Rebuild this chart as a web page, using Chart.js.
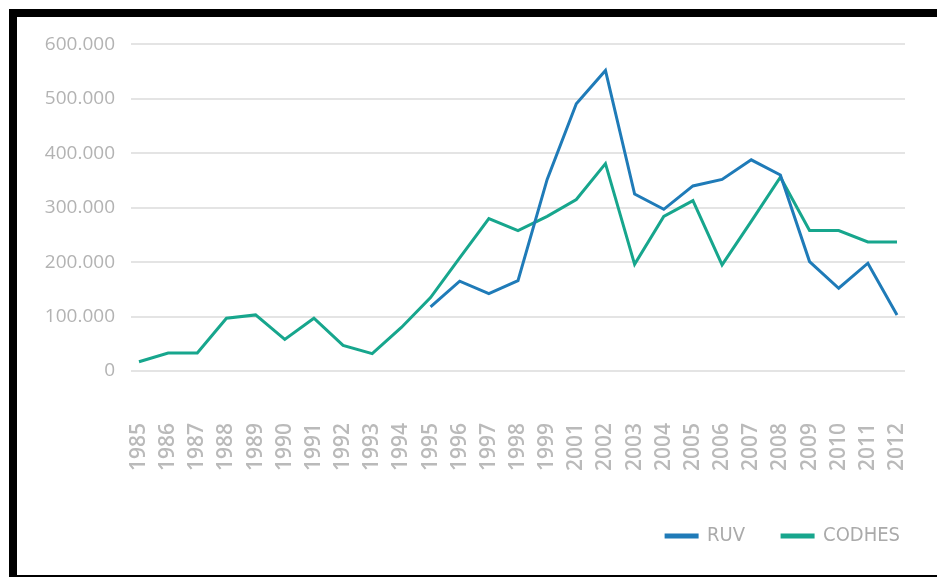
<!DOCTYPE html>
<html>
<head>
<meta charset="utf-8">
<script src="https://cdn.jsdelivr.net/npm/chart.js@4.4.0/dist/chart.umd.min.js"></script>
<style>
  html, body { margin: 0; padding: 0; background: #fff; overflow: hidden; }
  #frame {
    position: absolute; left: 9px; top: 9px;
    width: 920px; height: 558px;
    border-top: 8px solid #000; border-left: 8px solid #000; border-bottom: 2px solid #000;
    overflow: hidden;
  }
  #chart { display: block; }
</style>
</head>
<body>
<div id="frame"><canvas id="chart" width="920" height="558"></canvas></div>
<script>
// years on the axis (the source skips 2000)
const years = ['1985', '1986', '1987', '1988', '1989', '1990', '1991', '1992', '1993', '1994',
  '1995', '1996', '1997', '1998', '1999', '2001', '2002', '2003', '2004', '2005',
  '2006', '2007', '2008', '2009', '2010', '2011', '2012'];

const ruv = [null, null, null, null, null, null, null, null, null, null,
  118000, 165000, 142000, 166000, 352000, 491000, 552000, 325000, 297000, 340000,
  352000, 388000, 360000, 201000, 152000, 198000, 103000];

const codhes = [17000, 33000, 33000, 97000, 103000, 58000, 97000, 47000, 32000, 80000,
  135000, 208000, 280000, 258000, 284000, 315000, 381000, 196000, 284000, 313000,
  195000, 275000, 356000, 258000, 258000, 237000, 237000];

const yTicks = [0, 100000, 200000, 300000, 400000, 500000, 600000];

const toPoints = arr => arr.map((v, i) => ({ x: i, y: v }));

// 0 -> "0", 100000 -> "100.000"
function formatThousands(v) {
  return String(v).replace(/\B(?=(\d{3})+(?!\d))/g, '.');
}

const ctx = document.getElementById('chart').getContext('2d');

new Chart(ctx, {
  type: 'line',
  data: {
    datasets: [
      {
        label: 'RUV',
        data: toPoints(ruv),
        borderColor: '#1f7bb8',
        backgroundColor: '#1f7bb8',
        borderWidth: 3,
        pointRadius: 0,
        tension: 0
      },
      {
        label: 'CODHES',
        data: toPoints(codhes),
        borderColor: '#17a68d',
        backgroundColor: '#17a68d',
        borderWidth: 3,
        pointRadius: 0,
        tension: 0
      }
    ]
  },
  options: {
    responsive: false,
    animation: false,
    layout: { padding: { top: 27, left: 0, right: 0, bottom: 19 } },
    plugins: {
      tooltip: { enabled: false },
      legend: {
        position: 'bottom',
        align: 'end',
        labels: {
          boxWidth: 31,
          boxHeight: 2,
          padding: 37,
          color: '#aaaaaa',
          font: { family: "'Liberation Sans Narrow', 'DejaVu Sans Condensed', sans-serif", size: 20 }
        }
      }
    },
    scales: {
      x: {
        type: 'linear',
        min: -0.274,
        max: 26.274,
        grid: { display: false, drawTicks: true, tickLength: 48 },
        border: { display: false },
        afterFit: scale => { scale.height = 118; },
        afterBuildTicks: scale => {
          scale.ticks = years.map((y, i) => ({ value: i }));
        },
        ticks: {
          autoSkip: false,
          minRotation: 90,
          maxRotation: 90,
          padding: 4,
          color: '#bababa',
          font: { family: "'Open Sans', sans-serif", size: 21, weight: '600' },
          callback: value => years[value]
        }
      },
      y: {
        min: 0,
        max: 600000,
        afterFit: scale => { scale.width = 114; },
        afterBuildTicks: scale => {
          scale.ticks = yTicks.map(v => ({ value: v }));
        },
        grid: { color: '#e4e4e4', lineWidth: 2, drawTicks: false },
        border: { display: false },
        ticks: {
          padding: 16,
          color: '#b3b3b3',
          font: { family: "'Open Sans', sans-serif", size: 19 },
          callback: value => formatThousands(value)
        }
      },
      yRight: {
        position: 'right',
        display: true,
        grid: { display: false },
        border: { display: false },
        ticks: { display: false },
        afterFit: scale => { scale.width = 32; }
      }
    }
  }
});
</script>
</body>
</html>
